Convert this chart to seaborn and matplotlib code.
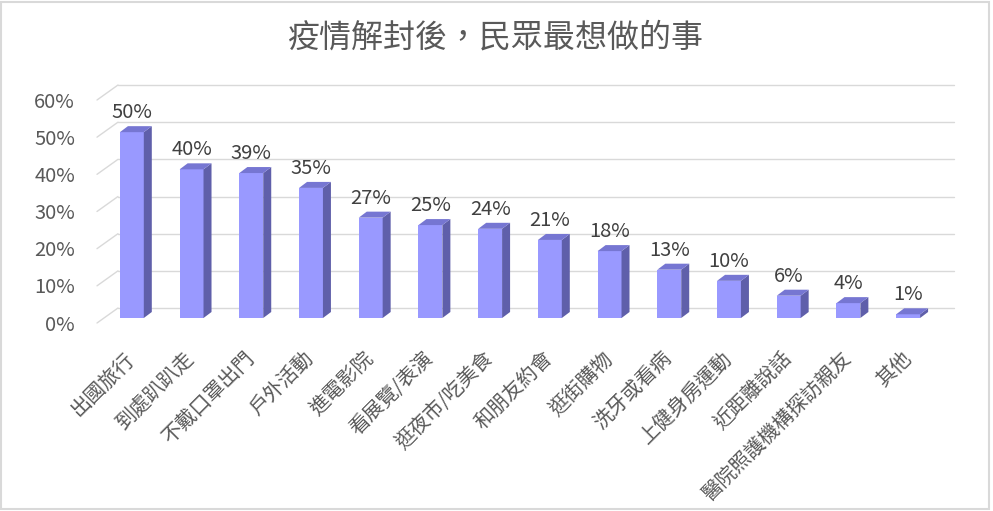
import matplotlib
matplotlib.use("Agg")
import matplotlib.pyplot as plt
import matplotlib.transforms as mtransforms
from matplotlib.patches import Polygon, Rectangle
import seaborn as sns

# ------------------ Data ------------------
categories = ["出國旅行", "到處趴趴走", "不戴口罩出門", "戶外活動", "進電影院",
              "看展覽/表演", "逛夜市/吃美食", "和朋友約會", "逛街購物", "洗牙或看病",
              "上健身房運動", "近距離說話", "醫院照護機構探訪親友", "其他"]
values = [0.50, 0.40, 0.39, 0.35, 0.27, 0.25, 0.24, 0.21, 0.18, 0.13, 0.10, 0.06, 0.04, 0.01]
y_ticks = [0.0, 0.1, 0.2, 0.3, 0.4, 0.5, 0.6]
y_tick_labels = ["0%", "10%", "20%", "30%", "40%", "50%", "60%"]
title = "疫情解封後，民眾最想做的事"

# ------------------ Style ------------------
sns.set_style("white")
plt.rcParams['font.family'] = ['Noto Sans CJK TC', 'DejaVu Sans']

front_color = "#9999FF"
side_color = "#5F5FAA"
top_color = "#7676D2"
grid_color = "#D9D9D9"
text_dark = "#404040"
text_grey = "#595959"

W, H = 993, 511
fig = plt.figure(figsize=(W / 100, H / 100), dpi=100)
ax = fig.add_axes([102 / W, (H - 318) / H, 836 / W, (318 - 95) / H])

sns.barplot(x=categories, y=values, color=front_color, saturation=1,
            width=0.40, linewidth=0, ax=ax, zorder=3)
ax.set_xlim(-0.5, len(categories) - 0.5)
ax.set_ylim(0, 0.6)
ax.set_facecolor("none")
sns.despine(ax=ax, left=True, bottom=True)
ax.set_xlabel("")
ax.set_ylabel("")
ax.set_yticks([])

# pixel -> data conversion for the fake 3D depth
fig.canvas.draw()
p0 = ax.transData.transform((0, 0))
p1 = ax.transData.transform((1, 0.1))
px_x = p1[0] - p0[0]          # pixels per category
px_y = (p1[1] - p0[1]) / 0.1  # pixels per unit of y

def to_data(dx_px, dy_px):
    return dx_px / px_x, dy_px / px_y

# bar side and top faces
bdx, bdy = to_data(8, 6)
for bar in list(ax.patches):
    x0 = bar.get_x()
    x1 = x0 + bar.get_width()
    h = bar.get_height()
    side = Polygon([(x1, 0), (x1 + bdx, bdy), (x1 + bdx, h + bdy), (x1, h)],
                   closed=True, facecolor=side_color, edgecolor="none", zorder=3)
    top = Polygon([(x0, h), (x0 + bdx, h + bdy), (x1 + bdx, h + bdy), (x1, h)],
                  closed=True, facecolor=top_color, edgecolor="none", zorder=3)
    ax.add_patch(side)
    ax.add_patch(top)

# back wall gridlines and the slanted left wall lines
gbx, gby = to_data(16, 10)
gfx, gfy = to_data(-5, -5)
xl, xr = ax.get_xlim()
for v in y_ticks:
    ax.plot([xl + gbx, xr + gbx], [v + gby, v + gby], color=grid_color,
            lw=1, zorder=1, clip_on=False)
    ax.plot([xl + gfx, xl + gbx], [v + gfy, v + gby], color=grid_color,
            lw=1, zorder=1, clip_on=False)

# y tick labels
ylab_trans = mtransforms.offset_copy(ax.transData, fig=fig, x=-27, y=-7, units="dots")
for v, lab in zip(y_ticks, y_tick_labels):
    ax.text(xl, v, lab, transform=ylab_trans, ha="right", va="center",
            fontsize=14.5, color=text_grey)

# x tick labels
ax.tick_params(axis="x", length=0, pad=27)
ax.set_xticks(range(len(categories)))
ax.set_xticklabels(categories, rotation=45, ha="right", va="center",
                   rotation_mode="anchor", fontsize=14.5, color=text_grey)

# data labels
for i, v in enumerate(values):
    ax.annotate(f"{round(v * 100):d}%", xy=(i, v), xytext=(0, 10),
                textcoords="offset points", ha="center", va="baseline",
                fontsize=14.5, color=text_dark)

fig.text(496 / W, 1 - 38 / H, title, ha="center", va="center",
         fontsize=23, color=text_grey)

# light frame around the chart
fig.patches.append(Rectangle((0.001, 0.003), 0.995, 0.994, transform=fig.transFigure,
                             fill=False, edgecolor=grid_color, lw=1.5))

fig.savefig("out.png", dpi=100)
